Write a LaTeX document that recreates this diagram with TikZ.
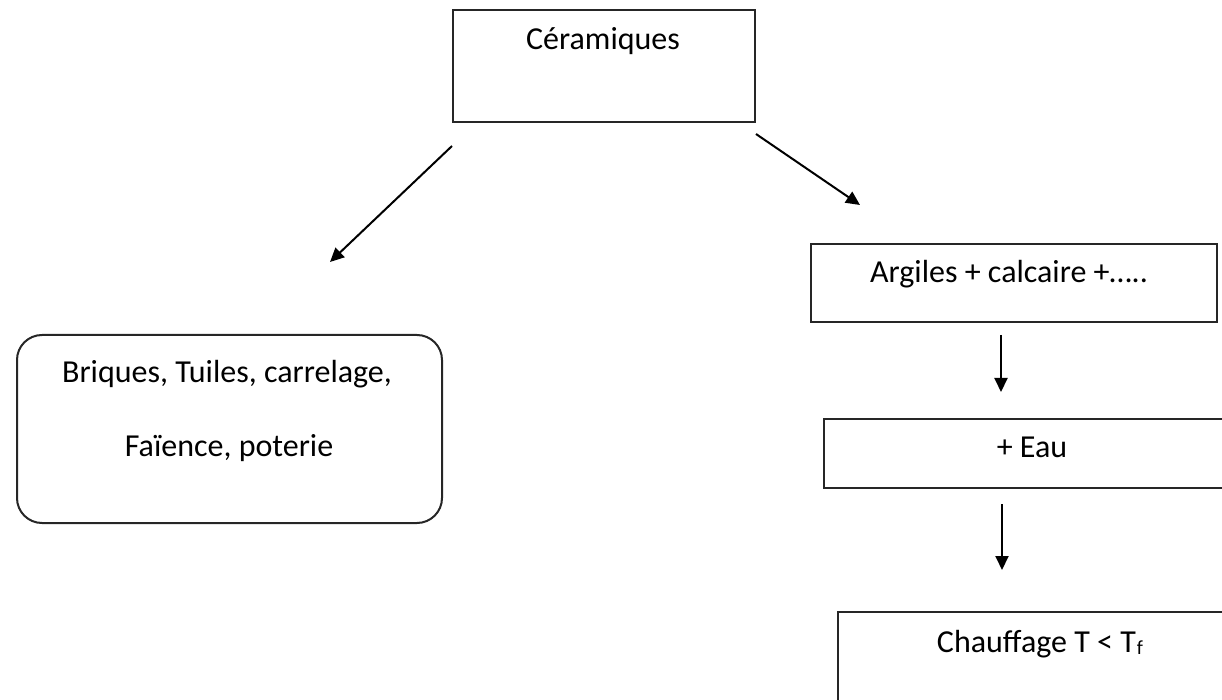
\documentclass[tikz,border=0pt]{standalone}
\usepackage{fontspec}
\setmainfont{Carlito}
\usetikzlibrary{arrows.meta}
\begin{document}
\begin{tikzpicture}[x=0.5pt,y=-0.5pt,
  boxst/.style={draw=black!85,line width=1pt,inner sep=0pt,outer sep=0pt},
  txt/.style={anchor=base,inner sep=0pt,font=\fontsize{16}{19}\selectfont},
  arr/.style={line width=1pt,-{Triangle[length=7pt,width=6.5pt]}}]
\clip (0,0) rectangle (1222,700);
\useasboundingbox (0,0) rectangle (1222,700);
% boxes
\node (cer) [boxst,minimum width=151pt,minimum height=56pt] at (604,66) {};
\node (bri) [boxst,rounded corners=12.5pt,minimum width=212.5pt,minimum height=94pt] at (229.5,429) {};
\node (arg) [boxst,minimum width=203pt,minimum height=39pt] at (1014,283) {};
\node (eau) [boxst,minimum width=208pt,minimum height=34.5pt] at (1032,453.5) {};
\node (chf) [boxst,minimum width=201pt,minimum height=54pt] at (1039,666) {};
% texts
\node (tcer) [txt] at (603,50) {Céramiques};
\node (tbri1) [txt] at (227,383) {Briques, Tuiles, carrelage,};
\node (tbri2) [txt] at (229,457) {Faïence, poterie};
\node (targ) [txt] at (1009,283) {Argiles + calcaire +…..};
\node (teau) [txt] at (1032,458) {+ Eau};
\node (tchf) [txt] at (1040,652) {Chauffage T < T\kern0.5pt\raisebox{-0.15ex}{\fontsize{10}{10}\selectfont f}};
% arrow end points
\coordinate (a1s) at (452,146);
\coordinate (a1e) at (330,262);
\coordinate (a2s) at (756,134);
\coordinate (a2e) at (860,205);
\coordinate (a3s) at (1001,335);
\coordinate (a3e) at (1001,392);
\coordinate (a4s) at (1002,504);
\coordinate (a4e) at (1002,570);
\draw[arr] (a1s) -- (a1e);
\draw[arr] (a2s) -- (a2e);
\draw[arr] (a3s) -- (a3e);
\draw[arr] (a4s) -- (a4e);
\end{tikzpicture}
\end{document}
